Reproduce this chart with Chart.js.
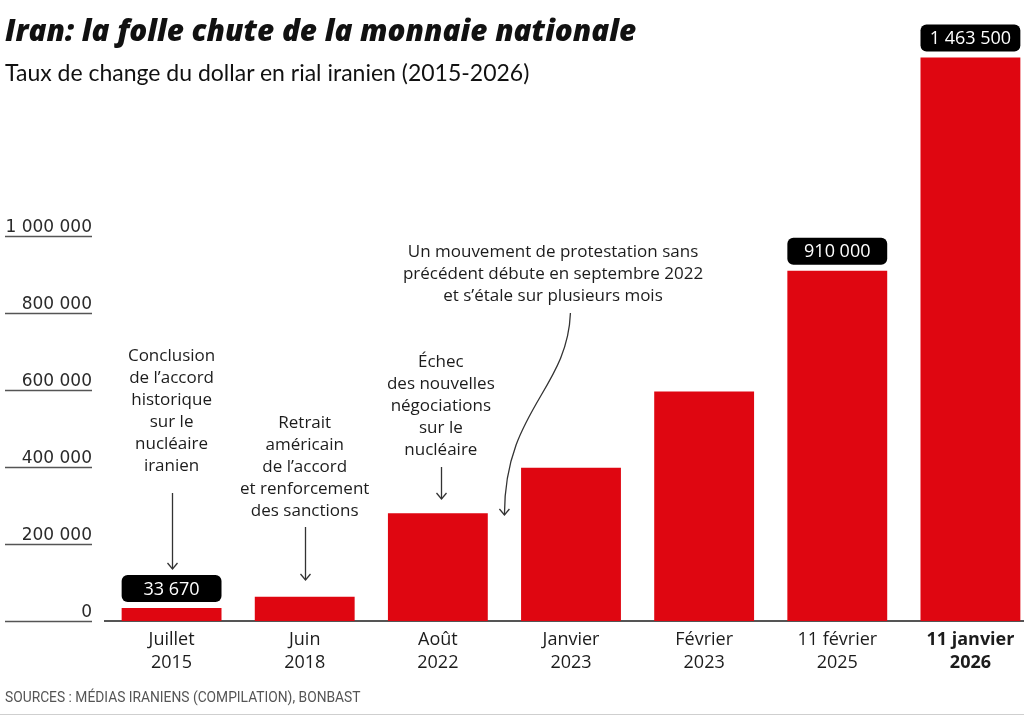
<!DOCTYPE html>
<html lang="fr">
<head>
<meta charset="utf-8">
<title>Iran: la folle chute de la monnaie nationale</title>
<script src="https://cdn.jsdelivr.net/npm/chart.js@4/dist/chart.umd.min.js"></script>
<style>
  html, body { margin: 0; padding: 0; background: #fff; overflow: hidden; }
  #wrap { position: relative; width: 1024px; height: 716px; overflow: hidden; }
  #chartBox { position: absolute; left: 0; top: 0; width: 1040px; height: 716px; }
  .title { position: absolute; left: 5px; top: 9px; font: italic 800 29.7px "Open Sans", sans-serif; color: #111; white-space: nowrap; }
  .subtitle { position: absolute; left: 5px; top: 58px; font: 400 23px Lato, sans-serif; color: #111; white-space: nowrap; }
  .source { position: absolute; left: 5px; top: 689px; font: 400 13.8px Roboto, sans-serif; color: #555; white-space: nowrap; }
  .rule { position: absolute; left: 0; top: 714px; width: 1024px; height: 1px; background: #cfcfcf; }
</style>
</head>
<body>
<div id="wrap">
  <div id="chartBox"><canvas id="rialChart"></canvas></div>
  <div class="title">Iran: la folle chute de la monnaie nationale</div>
  <div class="subtitle">Taux de change du dollar en rial iranien (2015-2026)</div>
  <div class="source">SOURCES : MÉDIAS IRANIENS (COMPILATION), BONBAST</div>
  <div class="rule"></div>
</div>
<script>
// données : rial pour un dollar
const categories = [
  ["Juillet", "2015"],
  ["Juin", "2018"],
  ["Août", "2022"],
  ["Janvier", "2023"],
  ["Février", "2023"],
  ["11 février", "2025"],
  ["11 janvier", "2026"]
];
const rates = [33670, 63000, 280000, 398000, 596000, 910000, 1463500];
const yTicks = [0, 200000, 400000, 600000, 800000, 1000000];
const labeledBars = [0, 5, 6];

// annotations (texte au-dessus des barres)
const notes = [
  { at: 0, lines: ["Conclusion", "de l’accord", "historique", "sur le", "nucléaire", "iranien"], top: 356, arrow: [493, 569] },
  { at: 1, lines: ["Retrait", "américain", "de l’accord", "et renforcement", "des sanctions"], top: 423, arrow: [527, 580] },
  { at: 2, lines: ["Échec", "des nouvelles", "négociations", "sur le", "nucléaire"], top: 362, dx: 3, arrow: [467, 499] },
  { at: 3, lines: ["Un mouvement de protestation sans", "précédent débute en septembre 2022", "et s’étale sur plusieurs mois"], top: 252, dx: -18 }
];

const RED = '#df0611';
const INK = '#1c1c1c';

function fmt(v) {
  return String(v).replace(/\B(?=(\d{3})+(?!\d))/g, ' ');
}

function arrowHead(ctx, x, y) {
  ctx.beginPath();
  ctx.moveTo(x - 5, y - 6);
  ctx.lineTo(x, y);
  ctx.lineTo(x + 5, y - 6);
  ctx.stroke();
}

// axe Y dessiné à la main : libellés soulignés à gauche
const yLabelsPlugin = {
  id: 'yLabels',
  afterDraw(chart) {
    const ctx = chart.ctx;
    const y = chart.scales.y;
    ctx.save();
    ctx.strokeStyle = '#555';
    ctx.lineWidth = 1.5;
    ctx.fillStyle = '#2a2a2a';
    ctx.font = '17px "DejaVu Sans", sans-serif';
    ctx.textAlign = 'right';
    ctx.textBaseline = 'alphabetic';
    yTicks.forEach(v => {
      const py = Math.round(y.getPixelForValue(v)) + 0.5;
      ctx.beginPath();
      ctx.moveTo(5, py);
      ctx.lineTo(92, py);
      ctx.stroke();
      ctx.fillText(fmt(v), 92, py - 5);
    });
    ctx.restore();
  }
};

// étiquettes noires au-dessus de certaines barres
const valueBoxPlugin = {
  id: 'valueBoxes',
  afterDatasetsDraw(chart) {
    const ctx = chart.ctx;
    const meta = chart.getDatasetMeta(0);
    ctx.save();
    ctx.font = '18px "Open Sans", sans-serif';
    ctx.textAlign = 'center';
    ctx.textBaseline = 'middle';
    labeledBars.forEach(i => {
      const bar = meta.data[i];
      const w = bar.width;
      const h = 27;
      const top = Math.max(bar.y - 6 - h, 22);
      ctx.fillStyle = '#000';
      ctx.beginPath();
      ctx.roundRect(bar.x - w / 2, top, w, h, 6);
      ctx.fill();
      ctx.fillStyle = '#fff';
      ctx.fillText(fmt(rates[i]), bar.x, top + h / 2 + 1);
    });
    ctx.restore();
  }
};

// textes explicatifs et flèches
const notesPlugin = {
  id: 'notes',
  afterDraw(chart) {
    const ctx = chart.ctx;
    const x = chart.scales.x;
    ctx.save();
    ctx.font = '17px "Open Sans", sans-serif';
    ctx.fillStyle = INK;
    ctx.strokeStyle = '#333';
    ctx.lineWidth = 1.3;
    ctx.textAlign = 'center';
    ctx.textBaseline = 'middle';
    notes.forEach(n => {
      const cx = x.getPixelForValue(n.at) + (n.dx || 0);
      n.lines.forEach((t, k) => ctx.fillText(t, cx, n.top + k * 22));
      if (n.arrow) {
        const ax = Math.round(x.getPixelForValue(n.at) + (n.dx || 0)) + 0.5;
        ctx.beginPath();
        ctx.moveTo(ax, n.arrow[0]);
        ctx.lineTo(ax, n.arrow[1]);
        ctx.stroke();
        arrowHead(ctx, ax, n.arrow[1]);
      }
    });
    // flèche courbe : septembre 2022, entre août 2022 et janvier 2023
    const ex = (x.getPixelForValue(2) + x.getPixelForValue(3)) / 2;
    const ey = 515;
    ctx.beginPath();
    ctx.moveTo(ex + 66, 313);
    ctx.bezierCurveTo(ex + 63, 390, ex, 410, ex, ey);
    ctx.stroke();
    arrowHead(ctx, ex, ey);
    ctx.restore();
  }
};

const ctx = document.getElementById('rialChart').getContext('2d');
const rialChart = new Chart(ctx, {
  type: 'bar',
  data: {
    labels: categories,
    datasets: [{
      data: rates,
      backgroundColor: RED,
      borderWidth: 0,
      categoryPercentage: 0.75,
      barPercentage: 1
    }]
  },
  options: {
    responsive: true,
    maintainAspectRatio: false,
    animation: false,
    devicePixelRatio: 1,
    layout: { padding: { left: 105, right: 3, top: 5, bottom: 0 } },
    plugins: {
      legend: { display: false },
      tooltip: { enabled: false }
    },
    scales: {
      x: {
        grid: { display: false, drawTicks: false },
        border: { display: true, color: '#555', width: 2 },
        ticks: {
          color: INK,
          padding: 7,
          maxRotation: 0,
          autoSkip: false,
          font: function(c) {
            return {
              family: '"Open Sans", sans-serif',
              size: 18,
              weight: c.index === categories.length - 1 ? 'bold' : 'normal',
              lineHeight: 1.3
            };
          }
        },
        afterFit(scale) { scale.height = 95; }
      },
      y: {
        display: false,
        min: 0,
        max: 1600000
      }
    }
  },
  plugins: [yLabelsPlugin, valueBoxPlugin, notesPlugin]
});
</script>
</body>
</html>
